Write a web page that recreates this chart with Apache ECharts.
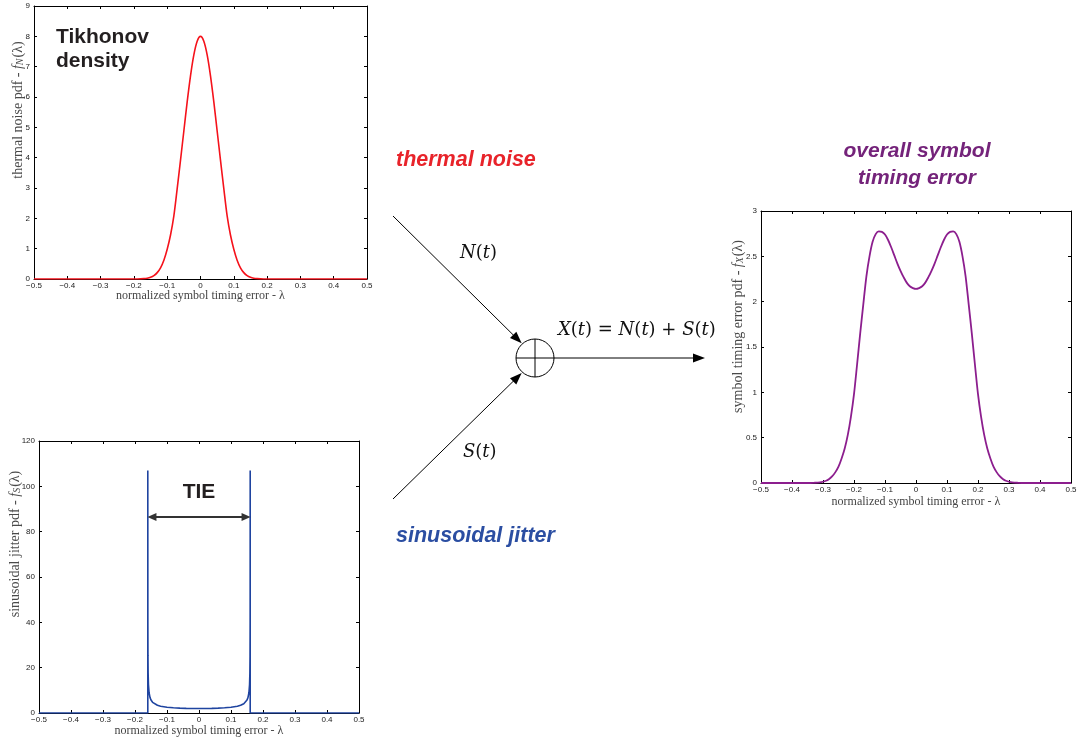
<!DOCTYPE html>
<html>
<head>
<meta charset="utf-8">
<script src="https://cdn.jsdelivr.net/npm/echarts@6/dist/echarts.min.js"></script>
<style>
html, body { margin: 0; padding: 0; background: #fff; }
#chart { width: 1077px; height: 740px; }
</style>
</head>
<body>
<div id="chart"></div>
<script>
// thermal noise pdf (Tikhonov density)
var tikLambda = [-0.5, -0.2, -0.19, -0.18, -0.17, -0.16, -0.15, -0.14, -0.13, -0.12, -0.11, -0.1,
  -0.09, -0.08, -0.07, -0.06, -0.05, -0.04, -0.03, -0.02, -0.01, 0,
  0.01, 0.02, 0.03, 0.04, 0.05, 0.06, 0.07, 0.08, 0.09, 0.1,
  0.11, 0.12, 0.13, 0.14, 0.15, 0.16, 0.17, 0.18, 0.19, 0.2, 0.5];
var tikValue = [0, 0, 0.001, 0.004, 0.011, 0.026, 0.055, 0.11, 0.21, 0.37, 0.62, 0.98,
  1.45, 2.08, 2.98, 3.92, 4.88, 5.84, 6.70, 7.39, 7.84, 8.00,
  7.84, 7.39, 6.70, 5.84, 4.88, 3.92, 2.98, 2.08, 1.45, 0.98,
  0.62, 0.37, 0.21, 0.11, 0.055, 0.026, 0.011, 0.004, 0.001, 0, 0];

// sinusoidal jitter pdf (bottom-left plot)
var sjLambda = [-0.5, -0.16, -0.16, -0.1598, -0.1595, -0.159, -0.158, -0.156, -0.153, -0.15, -0.145,
  -0.14, -0.13, -0.12, -0.1, -0.08, -0.06, -0.04, -0.02, 0,
  0.02, 0.04, 0.06, 0.08, 0.1, 0.12, 0.13, 0.14,
  0.145, 0.15, 0.153, 0.156, 0.158, 0.159, 0.1595, 0.1598, 0.16, 0.16, 0.5];
var sjValue = [0, 0, 107, 39.8, 25.2, 17.8, 12.6, 8.95, 6.80, 5.72, 4.71,
  4.11, 3.41, 3.01, 2.55, 2.30, 2.15, 2.05, 2.00, 1.99,
  2.00, 2.05, 2.15, 2.30, 2.55, 3.01, 3.41, 4.11,
  4.71, 5.72, 6.80, 8.95, 12.6, 17.8, 25.2, 39.8, 107, 0, 0];

// TIE arrow (peak-to-peak span of the jitter)
var tieEnds = [-0.147, 0.147];
var tieLevel = 86.5;

// overall symbol timing error pdf (right plot)
var ovLambda = [-0.5, -0.35, -0.33, -0.31, -0.29, -0.28, -0.27, -0.26, -0.25, -0.24, -0.23, -0.22,
  -0.21, -0.2, -0.19, -0.18, -0.17, -0.16, -0.15, -0.14, -0.13, -0.12, -0.11, -0.1,
  -0.09, -0.08, -0.07, -0.06, -0.05, -0.04, -0.03, -0.02, -0.01, 0,
  0.01, 0.02, 0.03, 0.04, 0.05, 0.06, 0.07, 0.08, 0.09,
  0.1, 0.11, 0.12, 0.13, 0.14, 0.15, 0.16, 0.17, 0.18, 0.19, 0.2,
  0.21, 0.22, 0.23, 0.24, 0.25, 0.26, 0.27, 0.28, 0.29, 0.31, 0.33, 0.35, 0.5];
var ovValue = [0, 0, 0.002, 0.007, 0.025, 0.045, 0.075, 0.12, 0.18, 0.27, 0.38, 0.53,
  0.73, 0.98, 1.31, 1.65, 1.97, 2.28, 2.50, 2.66, 2.745, 2.775, 2.77, 2.74,
  2.68, 2.60, 2.51, 2.42, 2.34, 2.27, 2.21, 2.17, 2.15, 2.14,
  2.15, 2.17, 2.21, 2.27, 2.34, 2.42, 2.51, 2.60, 2.68,
  2.74, 2.77, 2.775, 2.745, 2.66, 2.50, 2.28, 1.97, 1.65, 1.31, 0.98,
  0.73, 0.53, 0.38, 0.27, 0.18, 0.12, 0.075, 0.045, 0.025, 0.007, 0.002, 0, 0];

// axis ranges
var xRange = [-0.5, 0.5, 0.1];
var yRanges = [[0, 9, 1], [0, 120, 20], [0, 3, 0.5]];

var xName = 'normalized symbol timing error - λ';
var yNames = [
  'thermal noise pdf - {i|f}{s|N}{r|(λ)}',
  'sinusoidal jitter pdf - {i|f}{s|S}{r|(λ)}',
  'symbol timing error pdf - {i|f}{s|X}{r|(λ)}'
];

function pairs(xs, ys) {
  return xs.map(function (x, i) { return [x, ys[i]]; });
}

function fmt(v) {
  var s = String(+(+v).toFixed(2));
  return s.replace('-', '\u2212');
}

var serif = '"Liberation Serif", "Times New Roman", serif';
var sans = '"Liberation Sans", Arial, sans-serif';

var grids = [
  { left: 34, top: 6, width: 333, height: 273 },
  { left: 39, top: 441, width: 320, height: 272 },
  { left: 761, top: 211, width: 310, height: 272 }
];
var xNameGap = [11, 12, 13];
var yNameGap = [9, 17, 16];
var yNameShift = [65, 66, 41];
var yNameSize = 14;

var xAxes = [], yAxes = [];
grids.forEach(function (g, gi) {
  g.outerBoundsMode = 'none';
  ['bottom', 'top'].forEach(function (pos) {
    xAxes.push({
      type: 'value', gridIndex: gi, position: pos,
      min: xRange[0], max: xRange[1], interval: xRange[2],
      axisLine: { onZero: false, lineStyle: { color: '#000', width: 1 } },
      axisTick: { inside: true, length: 3, lineStyle: { color: '#000', width: 1 } },
      axisLabel: { show: pos === 'bottom', margin: 3, fontSize: 8, color: '#222', fontFamily: sans, formatter: fmt, hideOverlap: false },
      splitLine: { show: false },
      name: pos === 'bottom' ? xName : '',
      nameLocation: 'middle', nameGap: xNameGap[gi], nameMoveOverlap: false,
      nameTextStyle: { fontFamily: serif, fontSize: 12, color: '#444' }
    });
  });
  ['left', 'right'].forEach(function (pos) {
    var r = yRanges[gi];
    var sz = yNameSize;
    yAxes.push({
      type: 'value', gridIndex: gi, position: pos,
      min: r[0], max: r[1], interval: r[2],
      axisLine: { show: true, onZero: false, lineStyle: { color: '#000', width: 1 } },
      axisTick: { show: true, inside: true, length: 3, lineStyle: { color: '#000', width: 1 } },
      axisLabel: { show: pos === 'left', margin: 4, fontSize: 8, color: '#222', fontFamily: sans, formatter: fmt, hideOverlap: false },
      splitLine: { show: false },
      name: pos === 'left' ? yNames[gi] : '',
      nameLocation: 'middle', nameGap: yNameGap[gi], nameMoveOverlap: false,
      nameTextStyle: {
        fontFamily: serif, fontSize: sz, color: '#4a4a4a',
        padding: [0, 0, 0, yNameShift[gi]],
        rich: {
          i: { fontFamily: serif, fontSize: sz, fontStyle: 'italic', color: '#4a4a4a' },
          s: { fontFamily: serif, fontSize: Math.round(sz * 0.7), fontStyle: 'italic', color: '#4a4a4a', padding: [4, 1, 0, 0] },
          r: { fontFamily: serif, fontSize: sz, color: '#4a4a4a' }
        }
      }
    });
  });
});

// schematic: arrows into the summing node and out of it
function arrow(x1, y1, x2, y2) {
  var dx = x2 - x1, dy = y2 - y1;
  var L = Math.sqrt(dx * dx + dy * dy), ux = dx / L, uy = dy / L;
  var h = 12, w = 4.5;
  var bx = x2 - ux * h, by = y2 - uy * h;
  return [
    { type: 'line', silent: true, shape: { x1: x1, y1: y1, x2: bx + ux * 2, y2: by + uy * 2 }, style: { stroke: '#000', lineWidth: 1 } },
    { type: 'polygon', silent: true, shape: { points: [[x2, y2], [bx - uy * w, by + ux * w], [bx + uy * w, by - ux * w]] }, style: { fill: '#000' } }
  ];
}

var node = { cx: 535, cy: 358, r: 19 };
var mathFontI = 'italic 18px "DejaVu Serif", serif';
var mathFontR = '18px "DejaVu Serif", serif';
var mathRich = { i: { font: mathFontI, fill: '#111' }, r: { font: mathFontR, fill: '#111' } };

function label(x, y, text, font, fill, align, lineHeight) {
  return {
    type: 'text', silent: true, x: x, y: y,
    style: {
      text: text, font: font, fill: fill,
      align: align || 'left', verticalAlign: 'middle',
      textAlign: align || 'left', textVerticalAlign: 'middle',
      lineHeight: lineHeight
    }
  };
}

function mathLabel(x, y, text) {
  return {
    type: 'text', silent: true, x: x, y: y,
    style: { text: text, rich: mathRich, font: mathFontR, fill: '#111', align: 'left', verticalAlign: 'middle', textAlign: 'left', textVerticalAlign: 'middle' }
  };
}

var graphics = []
  .concat(arrow(393, 216, 521.7, 343.3))
  .concat(arrow(393, 499, 521.7, 373))
  .concat(arrow(node.cx + node.r, node.cy, 705, node.cy))
  .concat([
    { type: 'circle', silent: true, shape: node, style: { fill: 'none', stroke: '#000', lineWidth: 1 } },
    { type: 'line', silent: true, shape: { x1: node.cx, y1: node.cy - node.r, x2: node.cx, y2: node.cy + node.r }, style: { stroke: '#000', lineWidth: 1 } },
    { type: 'line', silent: true, shape: { x1: node.cx - node.r, y1: node.cy, x2: node.cx + node.r, y2: node.cy }, style: { stroke: '#000', lineWidth: 1 } },
    label(56, 49, 'Tikhonov\ndensity', 'bold 21px "Liberation Sans", Arial, sans-serif', '#231f20', 'left', 23.5),
    label(396, 160, 'thermal noise', 'italic bold 21.5px "Liberation Sans", Arial, sans-serif', '#e8232a'),
    label(396, 536, 'sinusoidal jitter', 'italic bold 21.5px "Liberation Sans", Arial, sans-serif', '#2b4ea2'),
    label(917, 164.5, 'overall symbol\ntiming error', 'italic bold 21px "Liberation Sans", Arial, sans-serif', '#74237a', 'center', 26.5),
    mathLabel(460, 253.5, '{i|N}{r|(}{i|t}{r|)}'),
    mathLabel(463, 452, '{i|S}{r|(}{i|t}{r|)}'),
    mathLabel(558, 330.5, '{i|X}{r|(}{i|t}{r|) = }{i|N}{r|(}{i|t}{r|) + }{i|S}{r|(}{i|t}{r|)}')
  ]);

var chart = echarts.init(document.getElementById('chart'), null, { renderer: 'canvas' });
chart.setOption({
  animation: false,
  backgroundColor: '#fff',
  grid: grids,
  xAxis: xAxes,
  yAxis: yAxes,
  series: [
    {
      type: 'line', xAxisIndex: 0, yAxisIndex: 0,
      data: pairs(tikLambda, tikValue),
      showSymbol: false, smooth: 0.3,
      lineStyle: { color: '#f5121b', width: 1.6 }
    },
    {
      type: 'line', xAxisIndex: 2, yAxisIndex: 2,
      data: pairs(sjLambda, sjValue),
      showSymbol: false,
      lineStyle: { color: '#1f44a0', width: 1.6 },
      markLine: {
        silent: true,
        symbol: ['triangle', 'triangle'],
        symbolSize: [8, 9],
        lineStyle: { color: '#333', width: 2, type: 'solid' },
        label: {
          show: true, position: 'middle', distance: 14, formatter: 'TIE',
          fontFamily: sans, fontWeight: 'bold', fontSize: 21, color: '#231f20'
        },
        data: [[{ coord: [tieEnds[0], tieLevel] }, { coord: [tieEnds[1], tieLevel] }]]
      }
    },
    {
      type: 'line', xAxisIndex: 4, yAxisIndex: 4,
      data: pairs(ovLambda, ovValue),
      showSymbol: false, smooth: 0.3,
      lineStyle: { color: '#8c1e8e', width: 1.8 }
    }
  ],
  graphic: { elements: graphics }
});
</script>
</body>
</html>
